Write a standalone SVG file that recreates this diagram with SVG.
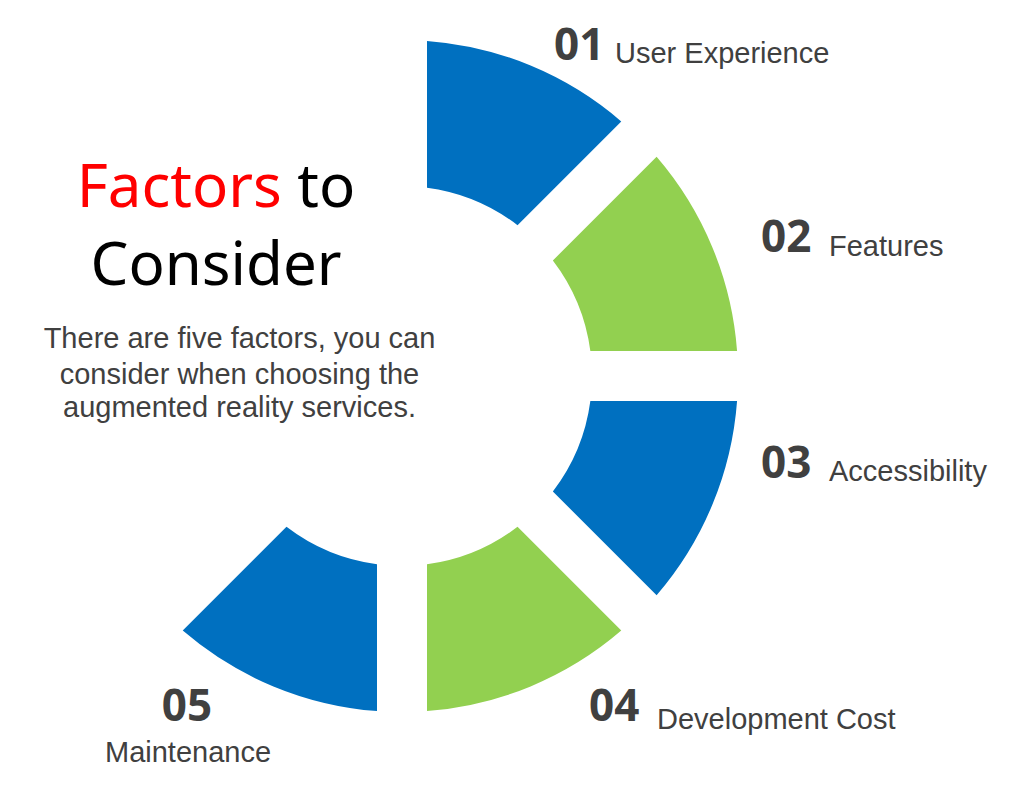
<svg xmlns="http://www.w3.org/2000/svg" width="1024" height="789" viewBox="0 0 1024 789">
<style>
.blue{fill:#0070C0}
.green{fill:#92D050}
.num{font-family:"Open Sans","Noto Sans",sans-serif;font-weight:700;font-size:44px;fill:#404040}
.lbl{font-family:"Liberation Sans",Arial,sans-serif;font-size:29px;fill:#404040}
.title{font-family:"Noto Sans","Open Sans",sans-serif;font-size:60px;fill:#000}
.desc{font-family:"Liberation Sans",Arial,sans-serif;font-size:29px;fill:#404040}
</style>
<rect width="1024" height="789" fill="#fff"/>
<g id="title">
<text class="title" x="216" y="207" text-anchor="middle"><tspan fill="#FF0000">Factors</tspan> to</text>
<text class="title" x="216" y="285" text-anchor="middle">Consider</text>
<text class="desc" x="239.5" y="348" text-anchor="middle">There are five factors, you can</text>
<text class="desc" x="239.5" y="384" text-anchor="middle">consider when choosing the</text>
<text class="desc" x="239.5" y="417" text-anchor="middle">augmented reality services.</text>
</g>
<g id="seg01">
<path class="blue" d="M427,40.9 A336,336 0 0 1 621.25,121.39 L517.5,225.14 A190,190 0 0 0 427,187.65 Z"/>
<text class="num" x="554" y="60">01</text>
<text class="lbl" x="615" y="63">User Experience</text>
</g>
<g id="seg02">
<path class="green" d="M656.61,156.75 A336,336 0 0 1 737.07,351 L590.35,351 A190,190 0 0 0 552.86,260.5 Z"/>
<text class="num" x="761" y="252">02</text>
<text class="lbl" x="829" y="256">Features</text>
</g>
<g id="seg03">
<path class="blue" d="M737.07,401 A336,336 0 0 1 656.61,595.25 L552.86,491.5 A190,190 0 0 0 590.35,401 Z"/>
<text class="num" x="761" y="478">03</text>
<text class="lbl" x="829" y="481">Accessibility</text>
</g>
<g id="seg04">
<path class="green" d="M621.25,630.61 A336,336 0 0 1 427,711.07 L427,564.35 A190,190 0 0 0 517.5,526.86 Z"/>
<text class="num" x="589" y="721">04</text>
<text class="lbl" x="657" y="729">Development Cost</text>
</g>
<g id="seg05">
<path class="blue" d="M377,711.07 A336,336 0 0 1 182.75,630.61 L286.5,526.86 A190,190 0 0 0 377,564.35 Z"/>
<text class="num" x="187" y="721" text-anchor="middle">05</text>
<text class="lbl" x="188" y="762" text-anchor="middle">Maintenance</text>
</g>
<g id="connectors"/>
</svg>
